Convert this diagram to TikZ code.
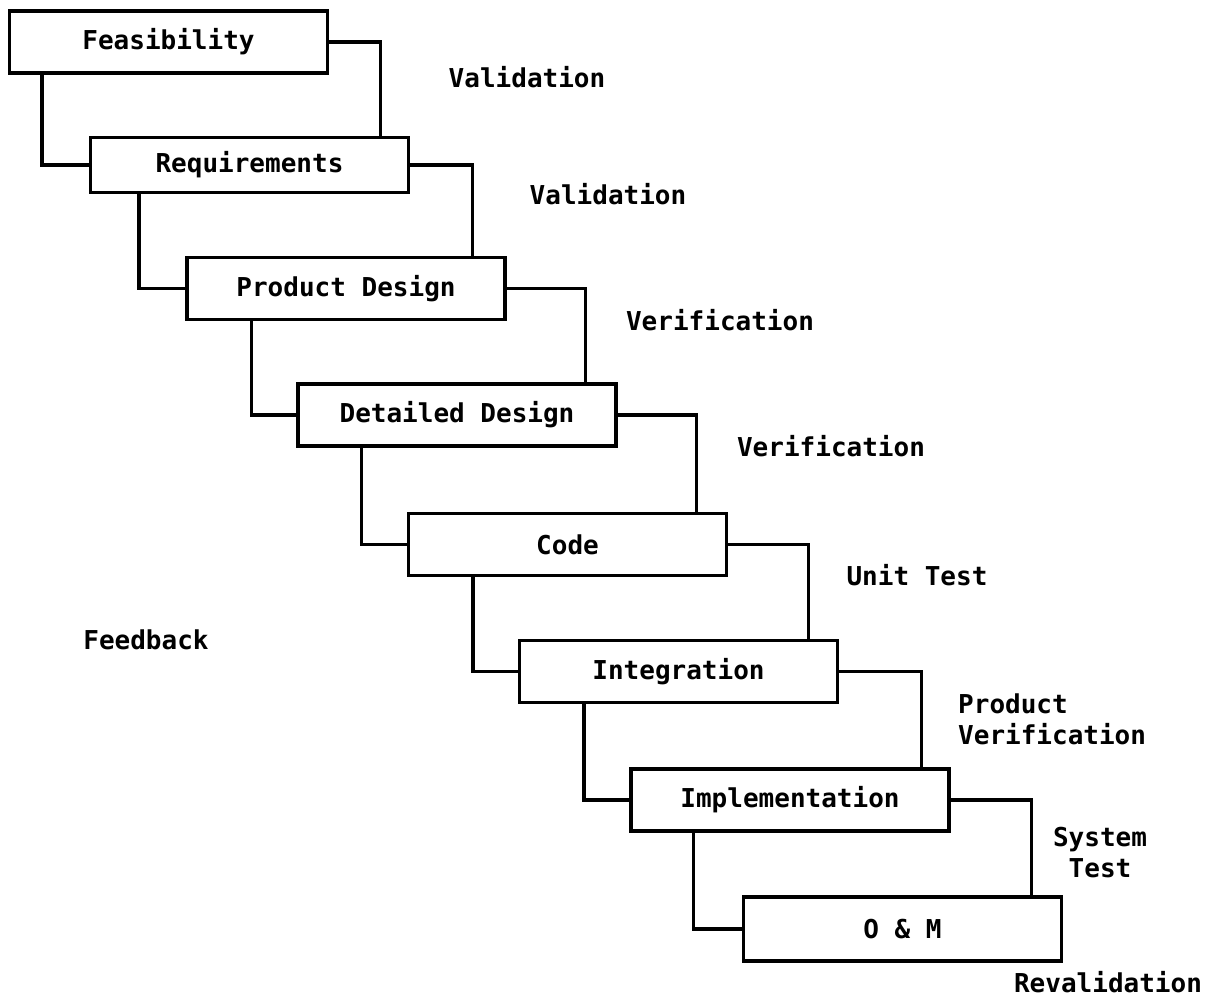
\documentclass[tikz,border=0pt]{standalone}
\usepackage{fontspec}
\setmonofont{DejaVu Sans Mono}
\usepackage{tikz}

\tikzset{
  phase/.style={draw, line width=3.2pt, minimum width=318pt, minimum height=62pt, inner sep=0pt,
    font=\ttfamily\bfseries\fontsize{26}{31}\selectfont},
  note/.style={inner sep=0pt, font=\ttfamily\bfseries\fontsize{26}{31}\selectfont},
  link/.style={line width=3.2pt}
}

\begin{document}
\begin{tikzpicture}[x=1pt,y=-1pt]
            \useasboundingbox (0,0) rectangle (1220,1004);
            \node[phase] (feas) at (168.5,42) {Feasibility};
            \node[phase, minimum height=55pt] (req) at (249.5,165) {Requirements};
            \node[phase] (pdes) at (346,288.5) {Product Design};
            \node[phase] (ddes) at (457,415) {Detailed Design};
            \node[phase] (code) at (567.5,544.5) {Code};
            \node[phase] (integ) at (678.5,671.5) {Integration};
            \node[phase] (impl) at (790,800) {Implementation};
            \node[phase, minimum height=64pt] (om) at (902.5,929) {O \& M};

            \draw[link] (feas.east) -| ([xshift=-30pt]req.north east);
            \draw[link] (req.east) -| ([xshift=-34pt]pdes.north east);
            \draw[link] (pdes.east) -| ([xshift=-32pt]ddes.north east);
            \draw[link] (ddes.east) -| ([xshift=-32pt]code.north east);
            \draw[link] (code.east) -| ([xshift=-31pt]integ.north east);
            \draw[link] (integ.east) -| ([xshift=-29pt]impl.north east);
            \draw[link] (impl.east) -| ([xshift=-32pt]om.north east);

            \draw[link] ([xshift=34pt]feas.south west) |- (req.west);
            \draw[link] ([xshift=50pt]req.south west) |- (pdes.west);
            \draw[link] ([xshift=66pt]pdes.south west) |- (ddes.west);
            \draw[link] ([xshift=65pt]ddes.south west) |- (code.west);
            \draw[link] ([xshift=66pt]code.south west) |- (integ.west);
            \draw[link] ([xshift=66pt]integ.south west) |- (impl.west);
            \draw[link] ([xshift=64pt]impl.south west) |- (om.west);

            \node[note] (val1) at (527,77) {Validation};
            \node[note] (val2) at (608,194) {Validation};
            \node[note] (ver1) at (720,320) {Verification};
            \node[note] (ver2) at (831,446) {Verification};
            \node[note] (unit) at (917,575) {Unit Test};
            \node[note, anchor=west, align=left] (pver) at (958,719) {Product\\Verification};
            \node[note, align=center] (stest) at (1100,853) {System\\Test};
            \node[note] (reval) at (1108,982) {Revalidation};
            \node[note] (fback) at (146,640) {Feedback};
        \end{tikzpicture}
\end{document}
